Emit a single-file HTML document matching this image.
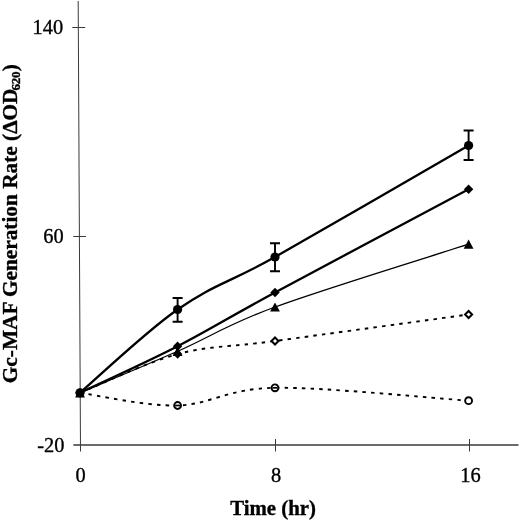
<!DOCTYPE html>
<html><head><meta charset="utf-8"><title>Gc-MAF Generation Rate</title>
<style>
html,body{margin:0;padding:0;background:#fff;}
body{width:520px;height:520px;overflow:hidden;position:relative;}
svg{position:absolute;left:0;top:0;display:block;}
text{font-family:"Liberation Serif",serif;fill:#000;stroke:#000;stroke-width:0.35px;}
.b{font-weight:bold;}
</style></head><body>
<svg width="520" height="520" viewBox="0 0 520 520">
<rect width="520" height="520" fill="#fff"/>
<g stroke="#3a3a3a" stroke-width="1" fill="none">
<path d="M78.2,1 L80.5,451.5"/>
<path d="M72.3,27.5 H85.2 M73.3,236.5 H86"/>
<path d="M73.3,445 H518.5" stroke-width="1.3"/>
<path d="M275.5,439 V451.5 M469.5,439 V451.5"/>
</g>
<text x="63.2" y="34.3" font-size="20.4" text-anchor="end">140</text>
<text x="63.7" y="243.3" font-size="20.4" text-anchor="end">60</text>
<text x="64.5" y="452.4" font-size="20.4" text-anchor="end">-20</text>
<text x="80.5" y="482" font-size="20.4" text-anchor="middle">0</text>
<text x="276.2" y="482" font-size="20.4" text-anchor="middle">8</text>
<text x="470.5" y="482" font-size="20.4" text-anchor="middle">16</text>
<text class="b" x="273.1" y="514.7" font-size="20.8" text-anchor="middle">Time (hr)</text>
<text class="b" transform="translate(16.5,383.2) rotate(-90)" font-size="21.3">Gc-MAF Generation Rate (ΔOD<tspan font-size="13.2" dy="3.5" dx="-2" letter-spacing="-0.3">620</tspan><tspan dy="-3.5" dx="0.5">)</tspan></text>
<path d="M80.00,392.80 C96.27,378.92 145.10,332.13 177.60,309.50 C214.6,283.7 228.5,283.2 275.00,257.00 C323.50,229.67 436.33,164.08 468.60,145.50" fill="none" stroke="#000" stroke-width="2.3"/>
<path d="M80.00,392.80 C96.27,385.05 145.10,363.02 177.60,346.30 C210.10,329.58 226.50,318.67 275.00,292.50 C323.50,266.33 436.33,206.50 468.60,189.30" fill="none" stroke="#000" stroke-width="2.3"/>
<path d="M80.00,392.80 C96.27,385.88 145.10,365.60 177.60,351.30 C210.10,337.00 226.50,324.85 275.00,307.00 C323.50,289.15 436.33,254.67 468.60,244.20" fill="none" stroke="#000" stroke-width="1.25"/>
<path d="M80.00,392.80 C96.27,386.35 145.10,362.73 177.60,354.10 C210.10,345.47 226.50,347.60 275.00,341.00 C323.50,334.40 436.33,318.92 468.60,314.50" fill="none" stroke="#000" stroke-width="1.9" stroke-dasharray="3.5 5.15"/>
<path d="M80.00,392.80 C96.27,394.92 145.10,406.33 177.60,405.50 C210.10,404.67 226.50,388.60 275.00,387.80 C323.50,387.00 436.33,398.55 468.60,400.70" fill="none" stroke="#000" stroke-width="1.9" stroke-dasharray="3.5 5.15"/>
<path d="M177.60,298.00 V321.70 M172.60,298.00 H182.60 M172.60,321.70 H182.60" fill="none" stroke="#000" stroke-width="1.9"/>
<path d="M275.00,243.30 V271.30 M270.00,243.30 H280.00 M270.00,271.30 H280.00" fill="none" stroke="#000" stroke-width="1.9"/>
<path d="M468.60,130.50 V160.00 M463.60,130.50 H473.60 M463.60,160.00 H473.60" fill="none" stroke="#000" stroke-width="1.9"/>
<circle cx="177.60" cy="309.50" r="4.6" fill="#000"/>
<circle cx="275.00" cy="257.00" r="4.6" fill="#000"/>
<circle cx="468.60" cy="145.50" r="4.6" fill="#000"/>
<path d="M177.60,341.60 L182.30,346.30 L177.60,351.00 L172.90,346.30 Z" fill="#000" stroke="#000" stroke-width="0"/>
<path d="M275.00,287.80 L279.70,292.50 L275.00,297.20 L270.30,292.50 Z" fill="#000" stroke="#000" stroke-width="0"/>
<path d="M468.60,184.60 L473.30,189.30 L468.60,194.00 L463.90,189.30 Z" fill="#000" stroke="#000" stroke-width="0"/>
<path d="M177.60,346.70 L182.50,355.90 L172.70,355.90 Z" fill="#000"/>
<path d="M275.00,302.40 L279.90,311.60 L270.10,311.60 Z" fill="#000"/>
<path d="M468.60,239.60 L473.50,248.80 L463.70,248.80 Z" fill="#000"/>
<path d="M177.60,349.40 L182.30,354.10 L177.60,358.80 L172.90,354.10 Z" fill="#000" stroke="#000" stroke-width="0"/>
<path d="M275.00,337.50 L278.50,341.00 L275.00,344.50 L271.50,341.00 Z" fill="#fff" stroke="#000" stroke-width="2.0"/>
<path d="M468.60,311.00 L472.10,314.50 L468.60,318.00 L465.10,314.50 Z" fill="#fff" stroke="#000" stroke-width="2.0"/>
<circle cx="177.60" cy="405.50" r="3.45" fill="#fff" stroke="#000" stroke-width="1.9"/>
<circle cx="275.00" cy="387.80" r="3.45" fill="#fff" stroke="#000" stroke-width="1.9"/>
<circle cx="468.60" cy="400.70" r="3.45" fill="#fff" stroke="#000" stroke-width="1.9"/>
<path d="M175.10,405.50 H180.10" stroke="#000" stroke-width="1.7" fill="none"/>
<path d="M272.50,387.80 H277.50" stroke="#000" stroke-width="1.7" fill="none"/>
<circle cx="80.00" cy="392.80" r="4.6" fill="#000"/>
<path d="M80.00,388.10 L84.70,392.80 L80.00,397.50 L75.30,392.80 Z" fill="#000" stroke="#000" stroke-width="0"/>
<path d="M80.00,388.20 L84.90,397.40 L75.10,397.40 Z" fill="#000"/>
</svg>
</body></html>
